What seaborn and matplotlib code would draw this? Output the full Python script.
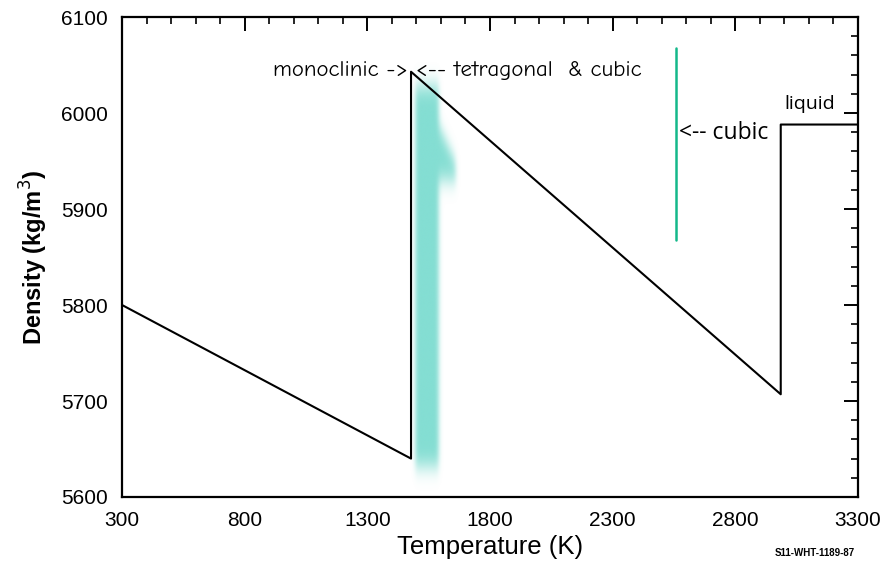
import numpy as np
import matplotlib
matplotlib.use("Agg")
import matplotlib.pyplot as plt
import seaborn as sns
import pandas as pd
from matplotlib.colors import to_rgb

sns.set_theme(style="white")
plt.rcParams["font.family"] = ["Liberation Sans", "DejaVu Sans"]
plt.rcParams["text.color"] = "black"
plt.rcParams["axes.labelcolor"] = "black"
plt.rcParams["xtick.color"] = "black"
plt.rcParams["ytick.color"] = "black"

# Density of zirconia versus temperature through its phase transitions
temperature_k = [300, 1478, 1478, 2985, 2985, 3300]
density = [5800, 5640, 6043, 5707, 5988, 5988]

x_ticks = [300, 800, 1300, 1800, 2300, 2800, 3300]
y_ticks = [5600, 5700, 5800, 5900, 6000, 6100]

# cubic-phase marker
cubic_marker_t = 2560
cubic_marker_range = [5868, 6068]

df = pd.DataFrame({"Temperature": temperature_k, "Density": density})

fig = plt.figure(figsize=(8.92, 5.71), dpi=100)
ax = fig.add_axes([0.1368, 0.1296, 0.8251, 0.8406])

# soft highlight painted over the monoclinic -> tetragonal jump
gx = np.linspace(1400, 1750, 350)
gy = np.linspace(5580, 6080, 500)
GX, GY = np.meshgrid(gx, gy)
mask = (((GX > 1495) & (GX < 1590) & (GY > 5632) & (GY < 6028))
        | ((GX > 1495) & (GX < 1660) & (GY > 5930) & (GY < 6022)
           & (GX - 1495 < (6040 - GY) * 1.8))).astype(float)


def blur(a, sigma, axis):
    r = int(3 * sigma)
    k = np.exp(-0.5 * (np.arange(-r, r + 1) / sigma) ** 2)
    k /= k.sum()
    return np.apply_along_axis(lambda v: np.convolve(v, k, mode="same"), axis, a)


mask = blur(blur(mask, 9, 1), 10, 0)
rgba = np.zeros(mask.shape + (4,))
rgba[..., :3] = to_rgb("#6ed8cb")
rgba[..., 3] = np.clip(mask * 0.85, 0, 1)
ax.imshow(rgba, extent=[gx[0], gx[-1], gy[0], gy[-1]], origin="lower",
          aspect="auto", interpolation="bilinear", zorder=1)

sns.lineplot(data=df, x="Temperature", y="Density", sort=False, estimator=None,
             color="black", linewidth=1.5, ax=ax, zorder=3)

ax.plot([cubic_marker_t, cubic_marker_t], cubic_marker_range,
        color="#14b88a", linewidth=1.8, zorder=3)

ax.set_xlim(300, 3300)
ax.set_ylim(5600, 6100)
ax.set_xticks(x_ticks)
ax.set_yticks(y_ticks)
ax.set_xticks(np.arange(300, 3301, 100), minor=True)
ax.set_yticks(np.arange(5600, 6101, 20), minor=True)
ax.tick_params(which="both", direction="in", top=True, right=True,
               labeltop=False, labelright=False, labelsize=15, pad=10)
ax.tick_params(which="major", length=10, width=1.4, color="black")
ax.tick_params(which="minor", length=5, width=1.2, color="black")
for s in ax.spines.values():
    s.set_color("black")
    s.set_linewidth(1.6)

ax.set_xlabel("Temperature (K)", fontsize=18.5, labelpad=4)
ax.set_ylabel("Density (kg/m$^3$)", fontsize=17, fontweight="bold", labelpad=8)

hand = ["Comic Neue", "Lato", "DejaVu Sans"]
ax.text(1467, 6034, "monoclinic ->", ha="right", va="bottom", fontsize=16.5,
        family=hand, fontweight="medium", color="black")
ax.text(1500, 6034, "<-- tetragonal  & cubic", ha="left", va="bottom",
        fontsize=16.5, family=hand, fontweight="medium", color="black")
ax.text(2570, 5979, "<-- cubic", ha="left", va="center", fontsize=16.5,
        family=["Open Sans", "DejaVu Sans"], color="black")
ax.text(2998, 6000, "liquid", ha="left", va="bottom", fontsize=14,
        family=["Open Sans", "DejaVu Sans"], color="black")

fig.text(0.958, 0.022, "S11-WHT-1189-87", ha="right", va="bottom",
         fontsize=7, fontweight="bold", color="black")

fig.savefig("out.png", dpi=100, facecolor="white")
